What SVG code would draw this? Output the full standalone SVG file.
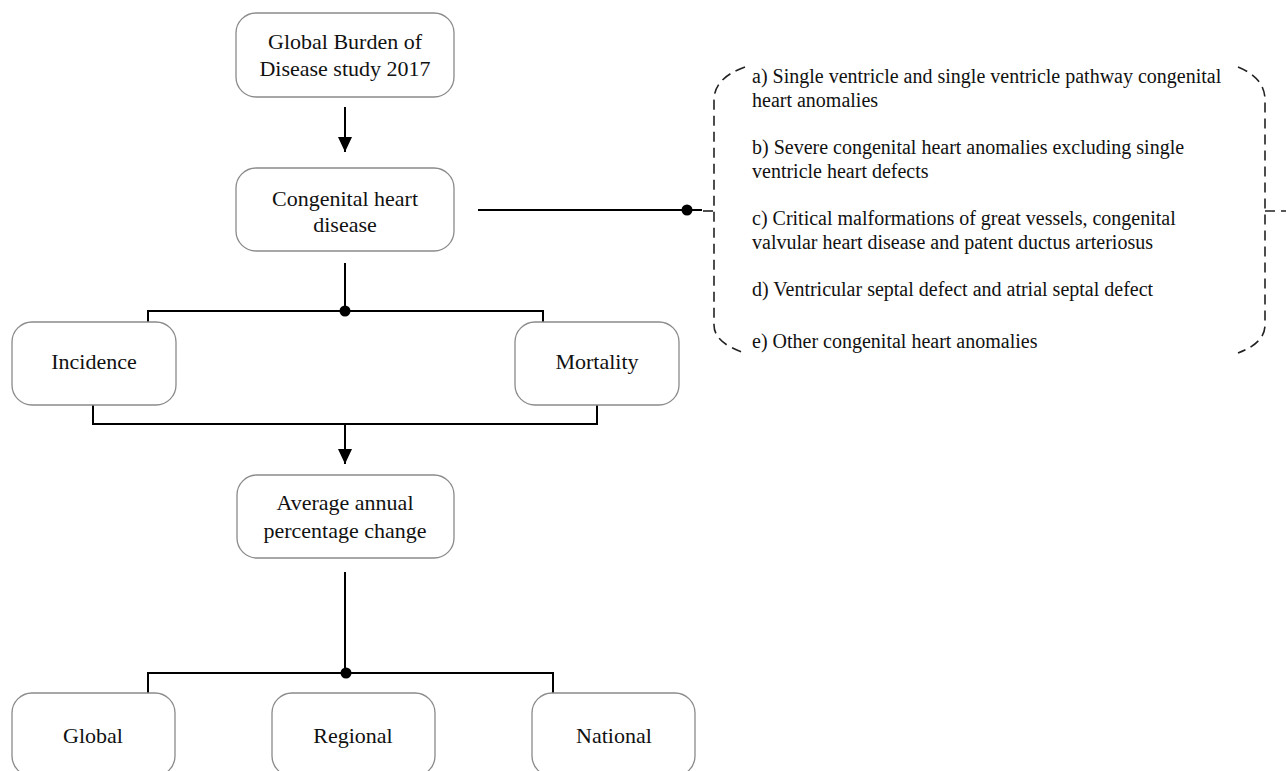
<svg xmlns="http://www.w3.org/2000/svg" width="1286" height="771" viewBox="0 0 1286 771">
<defs>
<marker id="arr" markerUnits="userSpaceOnUse" markerWidth="16" markerHeight="14" refX="15" refY="7" orient="auto" viewBox="0 0 16 14">
<path d="M0 0 L15 7 L0 14 Z" fill="#000"/>
</marker>
<style>
.box{fill:#fff;stroke:#8a8a8a;stroke-width:1.3}
.t{font-family:"Liberation Serif","Times New Roman",serif;font-size:22px;fill:#111;text-anchor:middle}
.s{font-family:"Liberation Serif","Times New Roman",serif;font-size:20px;fill:#111}
.ln{fill:none;stroke:#000;stroke-width:2}
.dash{fill:none;stroke:#222;stroke-width:1.6;stroke-dasharray:10 6}
</style>
</defs>
<rect width="1286" height="771" fill="#fff"/>
<g id="connectors">
<line class="ln" x1="345" y1="107" x2="345" y2="152" marker-end="url(#arr)"/>
<line class="ln" x1="478" y1="210" x2="702" y2="210"/>
<circle cx="687" cy="210" r="5.5" fill="#000"/>
<path class="ln" d="M345 263 L345 311 M148 322 L148 311 L543 311 L543 322"/>
<circle cx="345" cy="311" r="5.5" fill="#000"/>
<path class="ln" d="M93 405 L93 424 L597 424 L597 405"/>
<line class="ln" x1="345" y1="424" x2="345" y2="464" marker-end="url(#arr)"/>
<path class="ln" d="M345 572 L345 673 M148 693 L148 673 L553 673 L553 693"/>
<circle cx="346" cy="673" r="5.5" fill="#000"/>
</g>
<g id="bracket">
<path class="dash" d="M745 67 Q714 78 714 100 L714 325 Q714 343 745 353"/>
<path class="dash" d="M703 211 L714 211"/>
<path class="dash" d="M1238 67 Q1265 78 1265 100 L1265 325 Q1265 343 1238 353"/>
<path class="dash" d="M1265 211 L1292 211"/>
<text class="s" x="752" y="83">a) Single ventricle and single ventricle pathway congenital</text>
<text class="s" x="752" y="107">heart anomalies</text>
<text class="s" x="752" y="154">b) Severe congenital heart anomalies excluding single</text>
<text class="s" x="752" y="178">ventricle heart defects</text>
<text class="s" x="752" y="225">c) Critical malformations of great vessels, congenital</text>
<text class="s" x="752" y="249">valvular heart disease and patent ductus arteriosus</text>
<text class="s" x="752" y="296">d) Ventricular septal defect and atrial septal defect</text>
<text class="s" x="752" y="348">e) Other congenital heart anomalies</text>
</g>
<g id="gbd">
<rect class="box" x="236" y="13" width="218" height="84" rx="20"/>
<text class="t" x="345" y="49">Global Burden of</text>
<text class="t" x="345" y="76">Disease study 2017</text>
</g>
<g id="chd">
<rect class="box" x="236" y="168" width="218" height="83" rx="20"/>
<text class="t" x="345" y="206">Congenital heart</text>
<text class="t" x="345" y="232">disease</text>
</g>
<g id="incidence">
<rect class="box" x="12" y="322" width="164" height="83" rx="20"/>
<text class="t" x="94" y="369">Incidence</text>
</g>
<g id="mortality">
<rect class="box" x="515" y="322" width="164" height="83" rx="20"/>
<text class="t" x="597" y="369">Mortality</text>
</g>
<g id="apc">
<rect class="box" x="237" y="475" width="217" height="83" rx="20"/>
<text class="t" x="345" y="510">Average annual</text>
<text class="t" x="345" y="538">percentage change</text>
</g>
<g id="global">
<rect class="box" x="12" y="693" width="163" height="83" rx="20"/>
<text class="t" x="93" y="743">Global</text>
</g>
<g id="regional">
<rect class="box" x="272" y="693" width="163" height="83" rx="20"/>
<text class="t" x="353" y="743">Regional</text>
</g>
<g id="national">
<rect class="box" x="532" y="693" width="163" height="83" rx="20"/>
<text class="t" x="614" y="743">National</text>
</g>
</svg>
